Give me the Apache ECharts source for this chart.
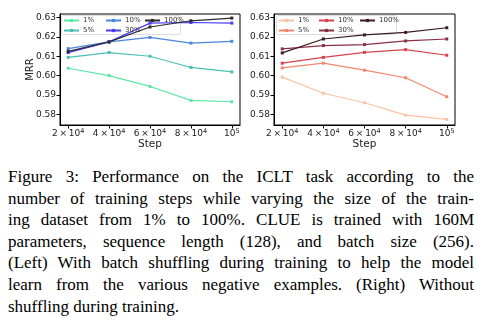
<!DOCTYPE html>
<html>
<head>
<meta charset="utf-8">
<script src="https://cdn.jsdelivr.net/npm/echarts@6/dist/echarts.min.js"></script>
<style>
  html, body { margin: 0; padding: 0; background: #fff; }
  #wrap { position: relative; width: 490px; height: 330px; overflow: hidden; }
  #chart { position: absolute; left: 0; top: 0; width: 490px; height: 160px; }
  #caption {
    position: absolute; left: 8px; top: 166px; width: 466px;
    font-family: "Liberation Serif", "Times New Roman", serif;
    font-size: 17px; line-height: 21.6px; color: #000;
  }
  #caption div { text-align: justify; text-align-last: justify; white-space: nowrap; }
  #caption div.last { text-align-last: left; }
</style>
</head>
<body>
<div id="wrap">
  <div id="chart"></div>
  <div id="caption">
    <div>Figure 3: Performance on the ICLT task according to the</div>
    <div>number of training steps while varying the size of the train-</div>
    <div>ing dataset from 1% to 100%. CLUE is trained with 160M</div>
    <div>parameters, sequence length (128), and batch size (256).</div>
    <div>(Left) With batch shuffling during training to help the model</div>
    <div>learn from the various negative examples. (Right) Without</div>
    <div class="last">shuffling during training.</div>
  </div>
</div>
<script>
// Training steps on the x axis
const steps = [20000, 40000, 60000, 80000, 100000];
const seriesNames = ['1%', '5%', '10%', '30%', '100%'];

// MRR with batch shuffling (left panel)
const shuffled1 = [0.6038, 0.6000, 0.5944, 0.5872, 0.5865];
const shuffled5 = [0.6094, 0.6119, 0.6100, 0.6042, 0.6019];
const shuffled10 = [0.6139, 0.6174, 0.6197, 0.6168, 0.6177];
const shuffled30 = [0.6119, 0.6174, 0.6271, 0.6274, 0.6271];
const shuffled100 = [0.6125, 0.6174, 0.6251, 0.6283, 0.6297];

// MRR without shuffling (right panel)
const plain1 = [0.5992, 0.5909, 0.5860, 0.5796, 0.5774];
const plain5 = [0.6040, 0.6064, 0.6028, 0.5989, 0.5891];
const plain10 = [0.6064, 0.6094, 0.6120, 0.6134, 0.6105];
const plain30 = [0.6138, 0.6155, 0.6160, 0.6179, 0.6189];
const plain100 = [0.6117, 0.6189, 0.6210, 0.6223, 0.6247];

const xTicks = [20000, 40000, 60000, 80000, 100000];
const yTicks = [0.58, 0.59, 0.60, 0.61, 0.62, 0.63];

const leftColors = ['#5ee6a6', '#4bbfb4', '#4a86dc', '#4b3cfb', '#2b2b2b'];
const rightColors = ['#fbc2a4', '#f2866f', '#d6434f', '#873043', '#3b1c20'];

const leftSets = [shuffled1, shuffled5, shuffled10, shuffled30, shuffled100];
const rightSets = [plain1, plain5, plain10, plain30, plain100];

const chart = echarts.init(document.getElementById('chart'), null, { renderer: 'canvas' });

const tickFont = 'DejaVu Sans';

// "m × 10^e" tick text with a raised exponent
function xLabel(v) {
  const e = Math.floor(Math.log10(v) + 1e-9);
  const m = Math.round(v / Math.pow(10, e));
  if (m === 1) return '{b|10}{s|' + e + '}';
  return '{b|' + m + '\u2009\u00d7\u200910}{s|' + e + '}';
}

function makeXAxis(gridIndex) {
  return {
    type: 'value', gridIndex, min: 16000, max: 104000,
    axisLine: { show: true, onZero: false, lineStyle: { color: '#000', width: 1 } },
    axisTick: { show: true, customValues: xTicks, length: 3.5, inside: false, lineStyle: { color: '#000' } },
    axisLabel: {
      customValues: xTicks, margin: 3, color: '#222',
      formatter: xLabel,
      rich: {
        b: { fontFamily: tickFont, fontSize: 9, color: '#222' },
        s: { fontFamily: tickFont, fontSize: 6.5, color: '#222', verticalAlign: 'bottom', padding: [0, 0, 5, 0] }
      }
    },
    splitLine: { show: false },
    name: 'Step', nameLocation: 'middle', nameGap: 14, nameMoveOverlap: false,
    nameTextStyle: { fontFamily: tickFont, fontSize: 10.5, color: '#222' }
  };
}

function makeYAxis(gridIndex, withName) {
  return {
    type: 'value', gridIndex, min: 0.5745, max: 0.6318,
    axisLine: { show: true, onZero: false, lineStyle: { color: '#000', width: 1 } },
    axisTick: { show: true, customValues: yTicks, length: 3.5, lineStyle: { color: '#000' } },
    axisLabel: {
      customValues: yTicks, margin: 4, color: '#222',
      fontFamily: tickFont, fontSize: 9,
      formatter: v => v.toFixed(2)
    },
    splitLine: { show: false },
    name: withName ? 'MRR' : '', nameLocation: 'middle', nameGap: 25, nameRotate: 90,
    nameMoveOverlap: false,
    nameTextStyle: { fontFamily: tickFont, fontSize: 10, color: '#222' }
  };
}

function makeSeries(sets, colors, axisIndex, prefix) {
  return sets.map((vals, i) => ({
    name: prefix + seriesNames[i],
    type: 'line',
    xAxisIndex: axisIndex, yAxisIndex: axisIndex,
    data: steps.map((s, k) => [s, vals[k]]),
    symbol: 'rect', symbolSize: 3, showSymbol: true,
    lineStyle: { color: colors[i], width: 1.2 },
    itemStyle: { color: colors[i] },
    emphasis: { disabled: true },
    animation: false
  }));
}

// column-major legend: three vertical columns per panel
function makeLegends(prefix, cols, top) {
  const groups = [[0, 1], [2, 3], [4]];
  return groups.map((g, c) => ({
    orient: 'vertical', left: cols[c], top: top,
    itemWidth: 15, itemHeight: 4, itemGap: 3,
    selectedMode: false,
    data: g.map(i => ({ name: prefix + seriesNames[i] })),
    formatter: n => n.replace(prefix, ''),
    textStyle: { fontFamily: tickFont, fontSize: 7, color: '#333', padding: [0, 0, 0, -1] },
    padding: 0
  }));
}

const option = {
  animation: false,
  grid: [
    { left: 60, top: 14, width: 180, height: 111, show: true, borderColor: '#000', borderWidth: 1, backgroundColor: 'transparent' },
    { left: 274, top: 14, width: 181, height: 111, show: true, borderColor: '#000', borderWidth: 1, backgroundColor: 'transparent' }
  ],
  xAxis: [makeXAxis(0), makeXAxis(1)],
  yAxis: [makeYAxis(0, true), makeYAxis(1, false)],
  legend: [
    ...makeLegends('L', [63, 105, 144], 17),
    ...makeLegends('R', [278, 318, 359], 17)
  ],
  graphic: [
    { type: 'rect', shape: { x: 61.5, y: 15.5, width: 119, height: 19, r: 2 },
      style: { fill: 'rgba(255,255,255,0.8)', stroke: '#ddd', lineWidth: 1 }, z: 2 },
    { type: 'rect', shape: { x: 276.5, y: 15.5, width: 120, height: 19, r: 2 },
      style: { fill: 'rgba(255,255,255,0.8)', stroke: '#ddd', lineWidth: 1 }, z: 2 }
  ],
  series: [
    ...makeSeries(leftSets, leftColors, 0, 'L'),
    ...makeSeries(rightSets, rightColors, 1, 'R')
  ]
};

chart.setOption(option);
</script>
</body>
</html>
